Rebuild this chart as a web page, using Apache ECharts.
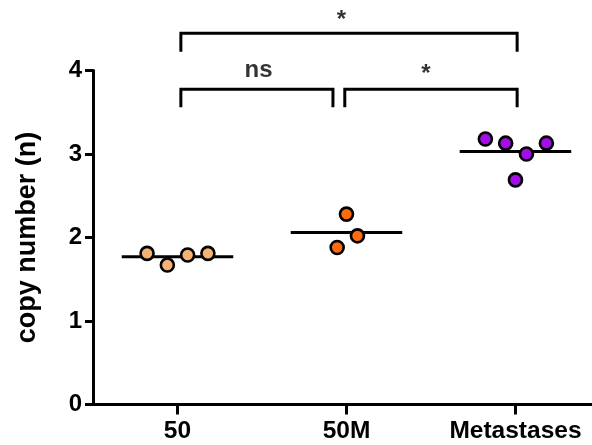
<!DOCTYPE html>
<html>
<head>
<meta charset="utf-8">
<style>
    html, body { margin: 0; padding: 0; background: #fff; }
    #chart { width: 592px; height: 445px; }
</style>
<script src="https://cdn.jsdelivr.net/npm/echarts@6/dist/echarts.min.js"></script>
</head>
<body>
<div id="chart"></div>
<script>
// categories and tick labels
var categories = ['50', '50M', 'Metastases'];
var yTicks = [0, 1, 2, 3, 4];

// copy number per sample, with the horizontal jitter
var values50 = [1.81, 1.67, 1.79, 1.81];
var jitter50 = [-0.18, -0.06, 0.06, 0.18];
var values50M = [2.28, 2.02, 1.88];
var jitter50M = [0.0, 0.065, -0.055];
var valuesMet = [3.18, 3.13, 3.00, 3.13, 2.69];
var jitterMet = [-0.178, -0.058, 0.065, 0.183, 0.0];

// group medians
var medians = [1.77, 2.06, 3.03];

// significance brackets: [from, to, top, leg bottom]
var brackets = [
    [1.02, 3.01, 4.445, 4.225],
    [1.02, 1.92, 3.775, 3.56],
    [1.99, 3.01, 3.775, 3.56]
];
var bracketLabels = [
    ['*', 1.97, 4.6],
    ['ns', 1.48, 4.0],
    ['*', 2.47, 3.95]
];

var colors = ['#F6B273', '#FF6A0C', '#A30DE6'];
var font = 'Liberation Sans, Arial, sans-serif';

var chart = echarts.init(document.getElementById('chart'));

function points(vals, jit, idx) {
    var out = [];
    for (var i = 0; i < vals.length; i++) {
        out.push([idx + 1 + jit[i], vals[i]]);
    }
    return out;
}

var series = [];

// median lines
for (var g = 0; g < medians.length; g++) {
    series.push({
        type: 'line',
        data: [[g + 1 - 0.33, medians[g]], [g + 1 + 0.33, medians[g]]],
        symbol: 'none',
        lineStyle: { color: '#000', width: 3 },
        z: 2,
        silent: true
    });
}

// sample points
var groups = [[values50, jitter50], [values50M, jitter50M], [valuesMet, jitterMet]];
for (var k = 0; k < groups.length; k++) {
    series.push({
        type: 'scatter',
        data: points(groups[k][0], groups[k][1], k),
        symbol: 'circle',
        symbolSize: 13,
        itemStyle: { color: colors[k], borderColor: '#000', borderWidth: 2.6, opacity: 1 },
        z: 3
    });
}

// brackets
for (var b = 0; b < brackets.length; b++) {
    var br = brackets[b];
    series.push({
        type: 'line',
        data: [[br[0], br[3]], [br[0], br[2]], [br[1], br[2]], [br[1], br[3]]],
        symbol: 'none',
        clip: false,
        lineStyle: { color: '#000', width: 3, join: 'miter' },
        silent: true
    });
}

// bracket texts
series.push({
    type: 'scatter',
    clip: false,
    symbolSize: 0,
    silent: true,
    itemStyle: { color: '#000' },
    data: bracketLabels.map(function (t) {
        return { name: t[0], value: [t[1], t[2]] };
    }),
    label: {
        show: true,
        position: 'inside',
        formatter: '{b}',
        color: '#000',
        textBorderWidth: 0,
        fontSize: 24,
        fontWeight: 'bold',
        fontFamily: font
    }
});

var option = {
    animation: false,
    backgroundColor: '#fff',
    grid: { left: 93, right: 0, top: 70.5, bottom: 40.5 },
    xAxis: {
        type: 'value',
        min: 0.5,
        max: 3.453,
        axisLine: { show: true, lineStyle: { color: '#000', width: 3 } },
        axisTick: { show: true, customValues: [1, 2, 3], length: 10, lineStyle: { color: '#000', width: 3 } },
        axisLabel: {
            customValues: [1, 2, 3],
            formatter: function (v) { return categories[Math.round(v) - 1]; },
            margin: 14,
            color: '#000',
            fontSize: 24.5,
            fontWeight: 'bold',
            fontFamily: font
        },
        splitLine: { show: false }
    },
    yAxis: {
        type: 'value',
        min: yTicks[0],
        max: yTicks[yTicks.length - 1],
        interval: 1,
        name: 'copy number (n)',
        nameLocation: 'middle',
        nameGap: 52,
        nameTextStyle: { color: '#000', fontSize: 27, fontWeight: 'bold', fontFamily: font },
        axisLine: { show: true, lineStyle: { color: '#000', width: 3 } },
        axisTick: { show: true, length: 8, lineStyle: { color: '#000', width: 3 } },
        axisLabel: { margin: 11, color: '#000', fontSize: 24, fontWeight: 'bold', fontFamily: font },
        splitLine: { show: false }
    },
    series: series
};
chart.setOption(option);
</script>
</body>
</html>
